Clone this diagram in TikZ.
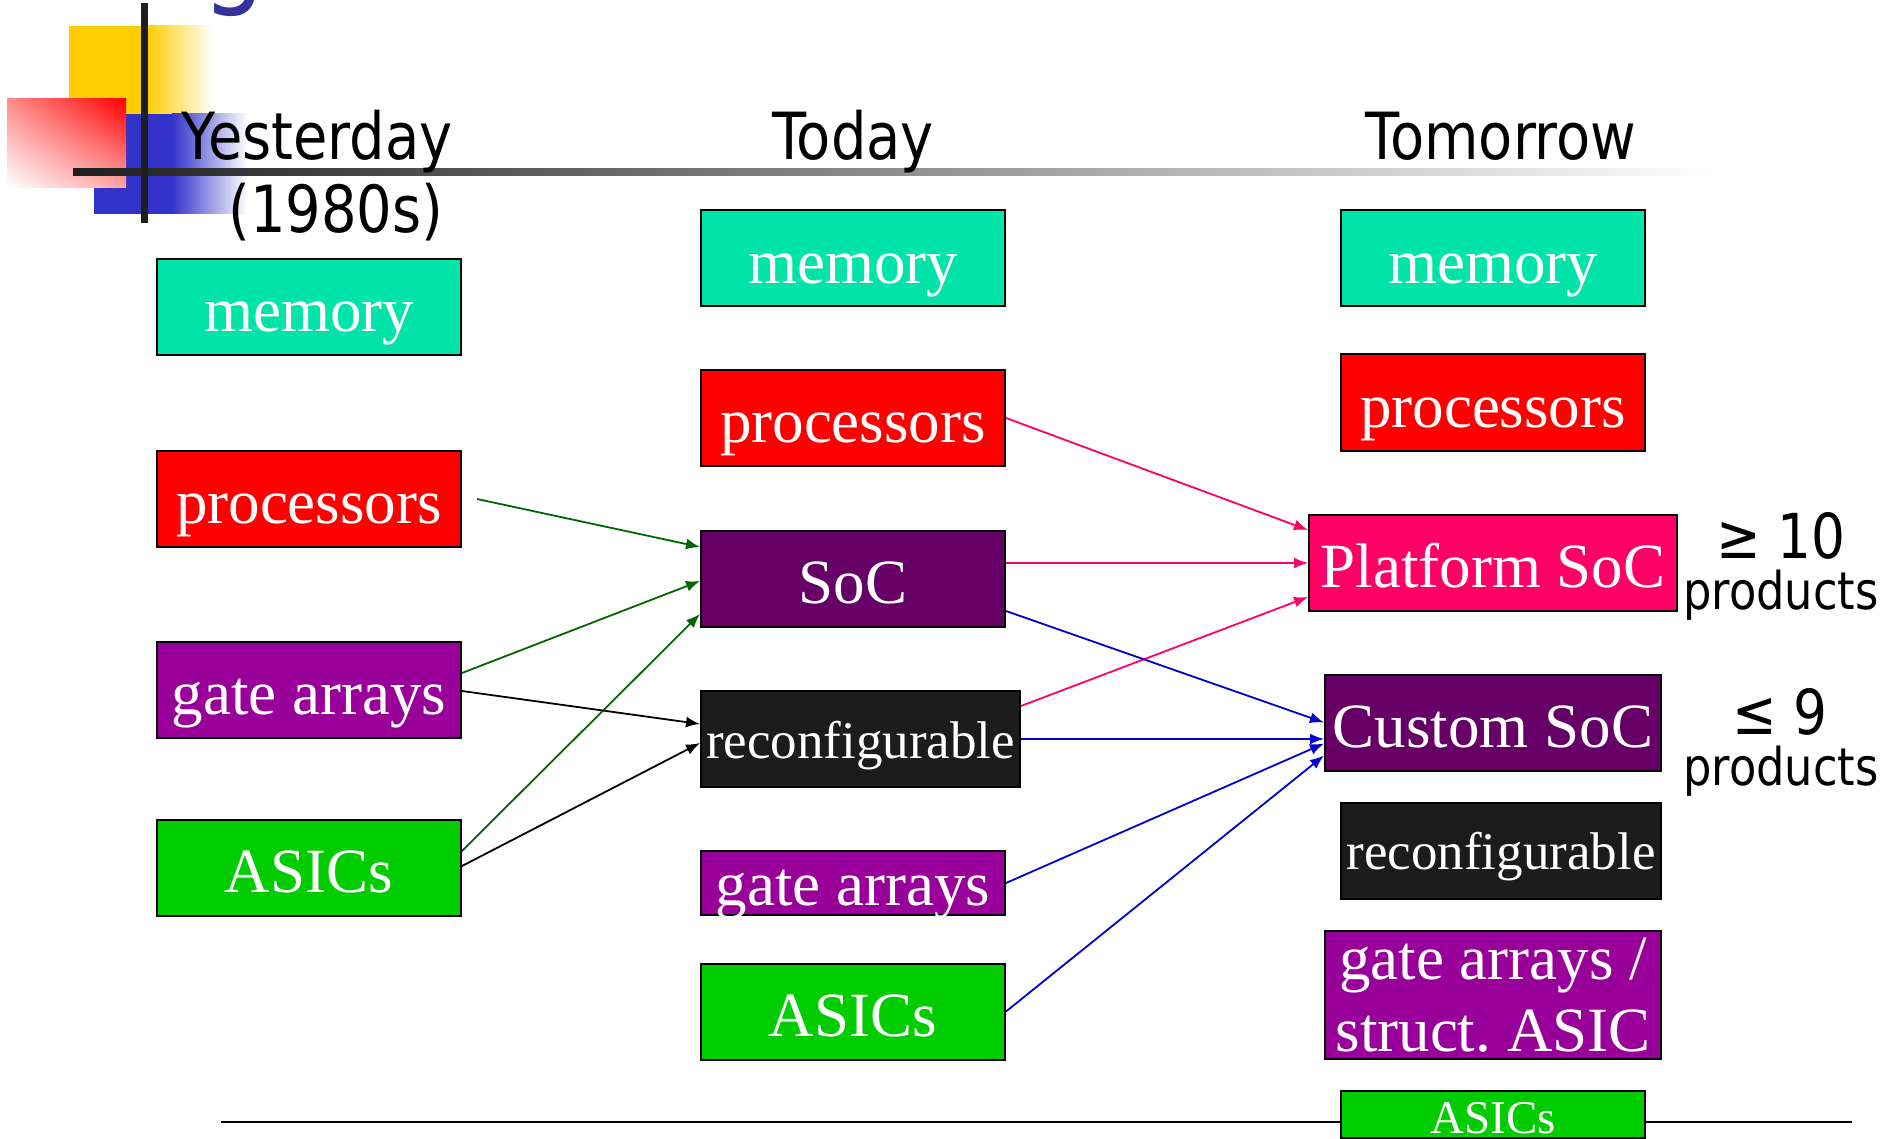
\documentclass[tikz,border=0pt]{standalone}
\usepackage{fontspec}
\setmainfont{Liberation Serif}
\newfontfamily\hdfont[FakeStretch=0.86]{DejaVu Sans}
\usetikzlibrary{arrows.meta,calc,shadings}

\definecolor{memc}{RGB}{0,228,170}
\definecolor{procc}{RGB}{255,0,0}
\definecolor{socc}{RGB}{102,0,102}
\definecolor{recc}{RGB}{28,28,28}
\definecolor{gac}{RGB}{153,0,153}
\definecolor{asicc}{RGB}{0,204,0}
\definecolor{psocc}{RGB}{255,0,102}
\definecolor{arrg}{RGB}{0,102,0}
\definecolor{arrb}{RGB}{0,0,204}
\definecolor{titlec}{RGB}{51,51,153}
\definecolor{sqyellow}{RGB}{255,204,0}
\definecolor{sqblue}{RGB}{51,51,204}
\definecolor{rulec}{RGB}{30,30,30}

\tikzset{
  boxbase/.style={draw=black, line width=2pt, inner sep=0pt, text=white,
    font={\fontsize{63}{68}\selectfont}, minimum width=304pt, minimum height=96pt},
  box/.style={boxbase, text height=53.5pt, text depth=3.8pt},
  recbox/.style={boxbase, fill=recc, font={\fontsize{53}{58}\selectfont},
    text height=41pt, text depth=3pt},
  hd/.style={inner sep=0pt, anchor=base, font={\hdfont\fontsize{65}{70}\selectfont}},
  sidebig/.style={inner sep=0pt, anchor=base, font={\hdfont\fontsize{62}{66}\selectfont}},
  sidesmall/.style={inner sep=0pt, anchor=base, font={\hdfont\fontsize{52}{56}\selectfont}},
  con/.style={line width=1.8pt, -{Latex[length=14pt,width=11pt]}},
}

\begin{document}
\begin{tikzpicture}[x=1pt,y=-1pt]
\useasboundingbox (0,0) rectangle (1898,1139);
\clip (0,0) rectangle (1898,1139);

% title descender peeking in at the top
\node[inner sep=0pt, anchor=base, text=titlec,
      font={\hdfont\fontsize{116}{120}\selectfont}] (titleg) at (234,-7) {g};

% corner ornament: squares, bars and the fading rule
\fill[sqyellow] (69,26) rectangle (147,170);
\shade[left color=sqyellow, right color=white] (147,26) rectangle (213,170);
\fill[sqblue] (94,114) rectangle (172,214);
\shade[left color=sqblue, right color=white] (172,114) rectangle (247,214);
\shade[upper left=red!45, upper right=red, lower left=white, lower right=red!35]
  (7,99) rectangle (126,188);
\shade[left color=rulec, right color=white] (73,169) rectangle (1720,176);
\fill[rulec] (141,3) rectangle (148,223);

% column headings
\node[hd] (h-yest) at (317,160) {Yesterday};
\node[hd] (h-year) at (336,233) {(1980s)};
\node[hd] (h-today) at (853,160) {Today};
\node[hd] (h-tom) at (1501,160) {Tomorrow};

% bottom rule
\draw[line width=2pt] (221,1122) -- (1852,1122);

% yesterday
\node[box, fill=memc]  (y-mem)  at (309,307)   {memory};
\node[box, fill=procc] (y-proc) at (309,499)   {processors};
\node[box, fill=gac]   (y-ga)   at (309,690)   {gate arrays};
\node[box, fill=asicc] (y-asic) at (309,868)   {ASICs};

% today
\node[box, fill=memc]  (t-mem)  at (853,258.5) {memory};
\node[box, fill=procc] (t-proc) at (853,418)   {processors};
\node[box, fill=socc]  (t-soc)  at (853,578.5) {SoC};
\node[recbox, minimum width=319pt] (t-rec) at (860.5,739) {reconfigurable};
\node[boxbase, fill=gac, minimum height=64pt, text height=50pt, text depth=6pt]
      (t-ga) at (853,883) {gate arrays};
\node[box, fill=asicc] (t-asic) at (853,1011.5) {ASICs};

% tomorrow
\node[box, fill=memc]  (m-mem)  at (1493,258.5) {memory};
\node[box, fill=procc] (m-proc) at (1493,402.5) {processors};
\node[box, fill=psocc, minimum width=368pt] (m-psoc) at (1493,562.5) {Platform SoC};
\node[box, fill=socc, minimum width=336pt]  (m-csoc) at (1493,722.5) {Custom SoC};
\node[recbox, minimum width=320pt] (m-rec) at (1501,850.5) {reconfigurable};
\node[boxbase, fill=gac, minimum width=336pt, minimum height=128pt, align=center]
      (m-gs) at (1493,995) {gate arrays /\\[4pt]struct.\ ASIC};
\node[boxbase, fill=asicc, minimum height=47pt, font={\fontsize{47}{50}\selectfont},
      text height=40pt, text depth=3pt] (m-asic) at (1493,1114.5) {ASICs};

% product counts
\node[sidebig]   (n-ge)  at (1781,558) {≥ 10};
\node[sidesmall] (n-gep) at (1781,609) {products};
\node[sidebig]   (n-le)  at (1780,734) {≤ 9};
\node[sidesmall] (n-lep) at (1781,785) {products};

% yesterday -> today
\draw[con, arrg] ($(y-proc.east)+(15,0)$) -- ($(t-soc.west)+(0,-31.5)$);
\draw[con, arrg] ($(y-ga.east)+(0,-17)$) -- ($(t-soc.west)+(0,2.5)$);
\draw[con, arrg] ($(y-asic.east)+(0,-17)$) -- ($(t-soc.west)+(0,35.5)$);
\draw[con, black] ($(y-ga.east)+(0,1)$) -- ($(t-rec.west)+(0,-15)$);
\draw[con, black] ($(y-asic.east)+(0,-2)$) -- ($(t-rec.west)+(0,4)$);

% today -> tomorrow
\draw[con, psocc] (t-proc.east) -- ($(m-psoc.west)+(0,-32.5)$);
\draw[con, psocc] ($(t-soc.east)+(0,-15.5)$) -- ($(m-psoc.west)+(0,0.5)$);
\draw[con, psocc] ($(t-rec.east)+(0,-33)$) -- ($(m-psoc.west)+(0,34.5)$);
\draw[con, arrb] ($(t-soc.east)+(0,32.5)$) -- (m-csoc.west);
\draw[con, arrb] (t-rec.east) -- ($(m-csoc.west)+(0,16.5)$);
\draw[con, arrb] (t-ga.east) -- ($(m-csoc.west)+(0,21)$);
\draw[con, arrb] (t-asic.east) -- ($(m-csoc.west)+(0,33)$);
\end{tikzpicture}
\end{document}
